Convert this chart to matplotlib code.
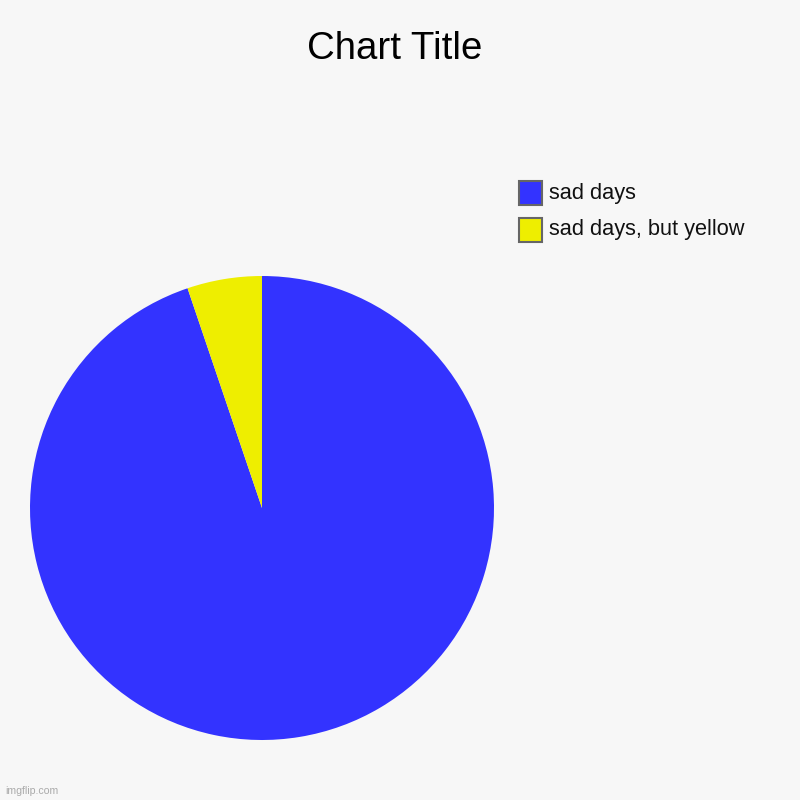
import matplotlib.pyplot as plt
from matplotlib.patches import Rectangle

labels = ['sad days', 'sad days, but yellow']
values = [94.8, 5.2]
colors = ['#3333ff', '#eeee00']

plt.rcParams['font.family'] = ['Liberation Sans', 'DejaVu Sans']

fig = plt.figure(figsize=(8, 8), dpi=100, facecolor='#f7f7f7')

# pie area: center (262, 508) px, radius 232 px
ax = fig.add_axes([30 / 800, 60 / 800, 464 / 800, 464 / 800])
ax.set_facecolor('#f7f7f7')
ax.pie(values, colors=colors, startangle=90, counterclock=False,
       radius=1, wedgeprops=dict(linewidth=0))
ax.set_xlim(-1, 1)
ax.set_ylim(-1, 1)
ax.set_aspect('equal')
ax.axis('off')

fig.text(395 / 800, 1 - 49 / 800, 'Chart Title', ha='center', va='center',
         fontsize=27.6, color='black')

# legend
for i, (lab, col) in enumerate(zip(labels, colors)):
    yc = 193 + 37 * i
    fig.patches.append(Rectangle((519 / 800, 1 - (yc + 11.5) / 800), 23 / 800, 23 / 800,
                                 transform=fig.transFigure, facecolor=col,
                                 edgecolor='#666666', linewidth=1.5))
    fig.text(549 / 800, 1 - yc / 800, lab, ha='left', va='center',
             fontsize=15.7, color='#111111')

fig.text(5 / 800, 1 - 791 / 800, 'imgflip.com', ha='left', va='center',
         fontsize=7.6, color='#aaaaaa')

fig.savefig('out.png', dpi=100, facecolor=fig.get_facecolor())
